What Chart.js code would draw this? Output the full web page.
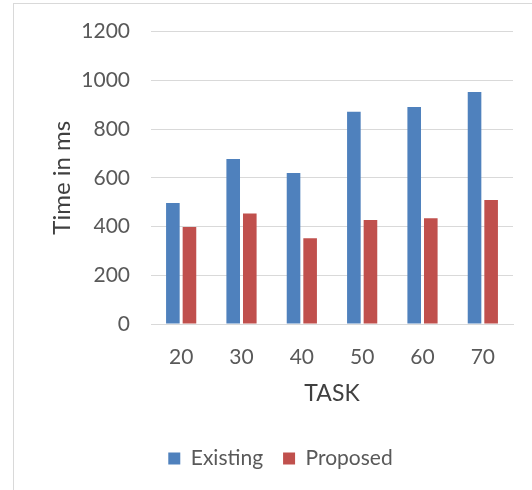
<!DOCTYPE html>
<html>
<head>
<meta charset="utf-8">
<script src="https://cdn.jsdelivr.net/npm/chart.js@4.4.1/dist/chart.umd.min.js"></script>
<style>
  html, body { margin: 0; padding: 0; background: #ffffff; overflow: hidden; }
  #wrap { position: relative; width: 532px; height: 490px; }
  #frame {
    position: absolute; left: 13px; top: 3px; width: 600px; height: 600px;
    border: 1px solid #d9d9d9; box-sizing: border-box;
  }
  #box { position: absolute; left: 0; top: 0; width: 532px; height: 490px; }
</style>
</head>
<body>
<div id="wrap">
  <div id="frame"></div>
  <div id="box"><canvas id="chart"></canvas></div>
</div>
<script>
// Task sizes on the horizontal axis
const tasks = ['20', '30', '40', '50', '60', '70'];
// Execution time (ms) per approach
const existingTimes = [496, 677, 620, 871, 890, 952];
const proposedTimes = [398, 453, 352, 427, 434, 509];
// Value axis range
const yMin = 0;
const yMax = 1200;
const yStep = 200;

const FONT = 'Lato, "Open Sans", sans-serif';
const SIZE = 21;

new Chart(document.getElementById('chart'), {
  type: 'bar',
  data: {
    labels: tasks,
    datasets: [
      {
        label: 'Existing',
        data: existingTimes,
        backgroundColor: '#4f81bd',
        borderWidth: 0,
        categoryPercentage: 0.55,
        barPercentage: 0.82
      },
      {
        label: 'Proposed',
        data: proposedTimes,
        backgroundColor: '#c0504d',
        borderWidth: 0,
        categoryPercentage: 0.55,
        barPercentage: 0.82
      }
    ]
  },
  options: {
    responsive: true,
    maintainAspectRatio: false,
    animation: false,
    layout: { padding: { left: 48, right: 19, top: 11, bottom: 11 } },
    plugins: {
      tooltip: { enabled: false },
      legend: {
        position: 'bottom',
        labels: {
          boxWidth: 12,
          boxHeight: 12,
          padding: 20,
          color: '#595959',
          font: { family: FONT, size: SIZE }
        }
      }
    },
    scales: {
      x: {
        grid: { display: false, drawTicks: false },
        border: { display: true, color: '#d9d9d9', width: 1 },
        ticks: {
          color: '#595959',
          padding: 21,
          font: { family: FONT, size: SIZE }
        },
        title: {
          display: true,
          text: 'TASK',
          color: '#404040',
          font: { family: FONT, size: 23 },
          padding: { top: 0, bottom: 21 }
        },
        // fixed band for tick labels + axis title
        afterFit: (scale) => { scale.height = 104; }
      },
      y: {
        min: yMin,
        max: yMax,
        ticks: {
          stepSize: yStep,
          color: '#595959',
          padding: 21,
          font: { family: FONT, size: SIZE, lineHeight: 1.0 },
          callback: (v) => String(v)
        },
        grid: { color: '#d9d9d9', lineWidth: 1, drawTicks: false },
        border: { display: false },
        title: {
          display: true,
          text: 'Time in ms',
          color: '#404040',
          font: { family: FONT, size: 24 },
          padding: { top: 0, bottom: 6 }
        },
        // fixed band for axis title + tick labels
        afterFit: (scale) => { scale.width = 103; }
      }
    }
  }
});
</script>
</body>
</html>
